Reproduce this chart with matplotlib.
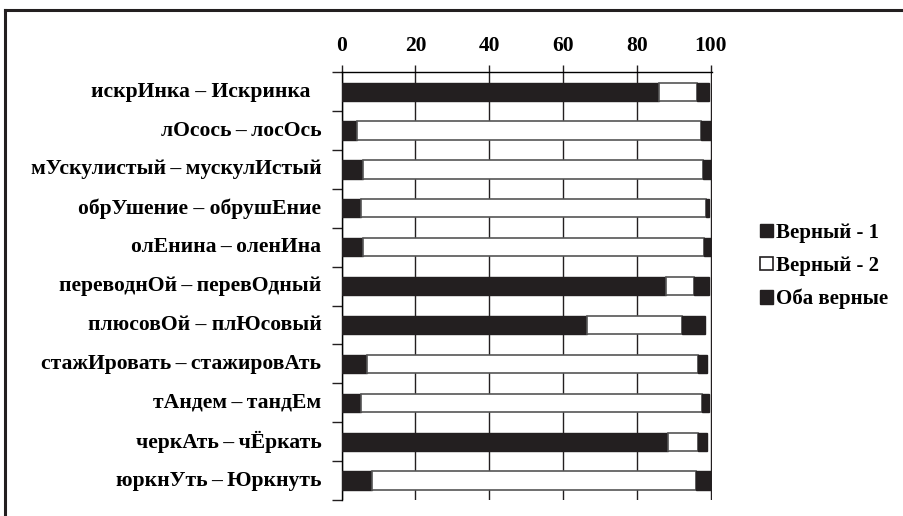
import numpy as np
import matplotlib.pyplot as plt
from matplotlib.patches import Patch
from matplotlib.lines import Line2D

# данные (%)
pary = ["искрИнка – Искринка  ", "лОсось\u2009–\u2009лосОсь", "мУскулистый\u2009–\u2009мускулИстый",
        "обрУшение – обрушЕние", "олЕнина\u2009–\u2009оленИна", "переводнОй\u2009–\u2009перевОдный",
        "плюсовОй – плЮсовый", "стажИровать\u2009–\u2009стажировАть", "тАндем\u2009–\u2009тандЕм",
        "черкАть\u2009–\u2009чЁркать", "юркнУть\u2009–\u2009Юркнуть"]
vernyi_1 = [86.0, 4.2, 5.7, 5.3, 5.7, 87.8, 66.5, 6.9, 5.3, 88.5, 8.2]
vernyi_2 = [10.4, 93.1, 92.2, 93.4, 92.4, 7.7, 25.8, 89.7, 92.5, 8.1, 87.9]
oba = [3.3, 2.7, 2.1, 0.8, 1.9, 4.0, 6.1, 2.4, 1.7, 2.4, 3.9]
xticks = [0, 20, 40, 60, 80, 100]

chern = "#231f20"
plt.rcParams['font.family'] = ['Liberation Serif', 'DejaVu Serif']
plt.rcParams['font.weight'] = 'bold'

fig = plt.figure(figsize=(9.04, 5.16), dpi=100)
ax = fig.add_axes([0.378, 0.031, 0.41, 0.829])

y = np.arange(len(pary))
v1 = np.array(vernyi_1)
v2 = np.array(vernyi_2)
v3 = np.array(oba)
h = 0.47
ax.barh(y, v1, height=h, color=chern, edgecolor=chern, linewidth=1, zorder=3)
ax.barh(y, v2, left=v1, height=h, color="white", edgecolor="#555555", linewidth=1.2, zorder=3)
ax.barh(y, v3, left=v1 + v2, height=h, color=chern, edgecolor=chern, linewidth=1, zorder=3)

ax.set_xlim(0, 100.5)
ax.set_ylim(10.5, -0.5)
ax.xaxis.tick_top()
ax.set_xticks(xticks)
ax.set_xticklabels([str(t) for t in xticks], fontsize=15.5, fontweight='bold')
ax.tick_params(axis='x', length=5, width=1, color=chern, pad=7)
ax.grid(axis='x', color=chern, linewidth=1, zorder=0)

# метки категорий отдельно, тики на границах
ax.set_yticks(np.arange(-0.5, len(pary), 1))
ax.set_yticklabels([])
ax.tick_params(axis='y', length=7, width=1, color=chern)
for i, p in enumerate(pary):
    ax.text(-5.5, i, p, ha='right', va='center', fontsize=15.6, fontweight='bold',
            transform=ax.transData)

for s in ['right', 'bottom']:
    ax.spines[s].set_visible(False)
ax.spines['top'].set_linewidth(1)
ax.spines['left'].set_linewidth(1)

handles = [Patch(facecolor=chern, edgecolor=chern),
           Patch(facecolor='white', edgecolor=chern, linewidth=1.2),
           Patch(facecolor=chern, edgecolor=chern)]
fig.legend(handles, ["Верный - 1", "Верный - 2", "Оба верные"],
           loc='center left', bbox_to_anchor=(0.82, 0.484), frameon=False,
           handlelength=0.6, handleheight=0.6, handletextpad=0.15,
           labelspacing=0.62, prop={'size': 15, 'weight': 'bold'})

# рамка
fig.add_artist(Line2D([0.0055, 0.0055], [0, 0.981], color=chern, lw=2.2, transform=fig.transFigure))
fig.add_artist(Line2D([0.0055, 1], [0.981, 0.981], color=chern, lw=2.2, transform=fig.transFigure))

fig.savefig('out.png', dpi=100)
